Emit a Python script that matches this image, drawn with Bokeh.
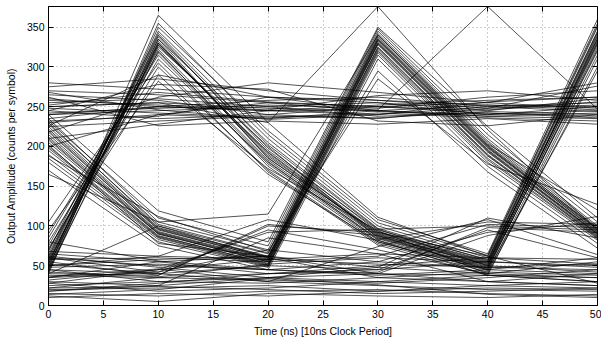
from bokeh.plotting import figure
from bokeh.models import LinearAxis, SingleIntervalTicker, Range1d, ColumnDataSource
from bokeh.embed import file_html
from bokeh.resources import INLINE

# sample instants (ns)
t_ns = [0, 10, 20, 30, 40, 50]

# traces rising 0->10, falling 10->30, rising 40->50
rise_first = [
    [42, 330, 190, 88, 52, 335], [48, 335, 185, 92, 55, 340], [55, 325, 200, 85, 48, 330],
    [60, 340, 195, 95, 58, 345], [45, 320, 175, 80, 45, 325], [52, 345, 210, 100, 60, 350],
    [65, 330, 188, 90, 50, 338], [70, 310, 180, 84, 47, 320], [80, 300, 170, 78, 42, 315],
    [58, 335, 205, 97, 57, 342], [50, 328, 192, 89, 53, 333], [44, 350, 220, 108, 65, 360],
    [62, 338, 198, 93, 56, 344], [75, 322, 183, 86, 49, 328], [90, 315, 178, 82, 46, 322],
    [105, 305, 168, 76, 38, 310], [47, 365, 230, 111, 62, 355], [53, 332, 186, 87, 51, 336],
    [68, 342, 202, 96, 100, 95], [56, 327, 193, 91, 54, 331], [40, 355, 215, 104, 63, 352],
    [85, 318, 181, 83, 105, 102], [72, 290, 165, 80, 44, 295], [95, 282, 172, 94, 40, 300],
]

# traces falling -10->10, rising 20->30, falling 30->50
fall_first = [
    [220, 95, 60, 335, 200, 92], [210, 90, 55, 330, 195, 90], [230, 100, 65, 340, 205, 95],
    [200, 88, 52, 325, 190, 88], [225, 98, 62, 338, 202, 97], [190, 85, 50, 320, 185, 85],
    [215, 93, 58, 333, 198, 93], [235, 105, 70, 345, 210, 100], [205, 90, 55, 328, 193, 89],
    [180, 80, 48, 315, 180, 82], [222, 97, 61, 336, 201, 94], [212, 92, 57, 331, 196, 91],
    [240, 119, 80, 350, 225, 110], [195, 86, 51, 322, 188, 87], [228, 102, 66, 342, 207, 98],
    [170, 75, 45, 310, 175, 78], [218, 96, 59, 334, 199, 96], [208, 91, 56, 329, 194, 90],
    [232, 110, 75, 348, 215, 105], [198, 87, 53, 324, 189, 86], [185, 83, 49, 318, 183, 84],
    [165, 105, 115, 340, 203, 120], [202, 78, 62, 295, 168, 72], [188, 112, 68, 285, 178, 127],
]

# traces around the upper middle level
mid_level = [
    [250, 255, 248, 245, 252, 250], [240, 245, 250, 255, 240, 245], [260, 250, 245, 240, 250, 255],
    [230, 240, 235, 245, 238, 242], [270, 265, 255, 250, 245, 260], [245, 235, 240, 250, 255, 248],
    [280, 272, 262, 245, 240, 250], [225, 232, 238, 236, 244, 240], [255, 260, 250, 238, 242, 236],
    [235, 250, 258, 262, 250, 244], [265, 258, 240, 235, 248, 252], [248, 242, 236, 242, 236, 232],
    [210, 228, 245, 252, 258, 262], [275, 285, 270, 258, 252, 246], [242, 248, 252, 248, 262, 270],
    [232, 238, 262, 255, 246, 256], [258, 252, 246, 264, 270, 258], [200, 240, 255, 244, 238, 235],
    [268, 246, 234, 240, 256, 262], [252, 268, 256, 250, 242, 238], [226, 290, 262, 258, 248, 276],
    [218, 262, 280, 268, 255, 280], [262, 226, 232, 228, 235, 228], [245, 278, 272, 232, 226, 240],
]

# traces around the lower levels
low_level = [
    [30, 25, 35, 40, 30, 25], [45, 40, 50, 45, 55, 50], [60, 50, 45, 55, 48, 52],
    [15, 12, 18, 20, 15, 12], [20, 22, 25, 18, 22, 20], [35, 42, 95, 70, 40, 35],
    [65, 55, 40, 45, 95, 60], [40, 100, 60, 35, 30, 40], [12, 5, 15, 12, 10, 14],
    [25, 30, 28, 35, 42, 38], [50, 58, 62, 48, 40, 55], [62, 48, 35, 30, 25, 22],
    [18, 28, 40, 50, 60, 58], [38, 35, 32, 28, 35, 45], [28, 18, 22, 30, 38, 30],
    [48, 52, 45, 38, 45, 60], [58, 60, 55, 62, 102, 98], [10, 15, 12, 18, 25, 30],
    [42, 36, 52, 60, 55, 48], [22, 24, 20, 15, 18, 22], [68, 62, 58, 52, 48, 45],
    [32, 45, 58, 65, 60, 52], [52, 40, 30, 25, 20, 18], [80, 56, 45, 40, 38, 35],
    [55, 38, 100, 92, 62, 28], [36, 46, 30, 74, 108, 64], [14, 20, 34, 26, 14, 10],
    [40, 38, 102, 88, 45, 40], [28, 45, 92, 96, 50, 42], [50, 62, 108, 82, 38, 30],
    [22, 35, 40, 42, 98, 92], [45, 30, 35, 48, 110, 85], [60, 42, 70, 55, 92, 104],
    [18, 25, 85, 65, 30, 25], [35, 55, 62, 40, 88, 112],
]

# isolated overshoot traces
overshoot = [
    [250, 255, 230, 376, 221, 95],
    [240, 250, 245, 246, 376, 247],
]

traces = rise_first + fall_first + mid_level + low_level + overshoot
src = ColumnDataSource(dict(xs=[t_ns] * len(traces), ys=traces))

FONT = "Liberation Sans"

p = figure(width=601, height=339, output_backend="svg", toolbar_location=None,
           x_range=Range1d(0, 50), y_range=Range1d(0, 376),
           min_border_left=48, min_border_right=4, min_border_top=6, min_border_bottom=30,
           x_axis_label="Time (ns) [10ns Clock Period]",
           y_axis_label="Output Amplitude (counts per symbol)")
p.background_fill_color = "white"
p.border_fill_color = "white"
p.outline_line_color = "black"
p.outline_line_width = 1

p.multi_line(xs="xs", ys="ys", source=src, line_color="black", line_width=0.75, line_alpha=0.9)

xt = SingleIntervalTicker(interval=5)
yt = SingleIntervalTicker(interval=50)
p.xaxis.ticker = xt
p.yaxis.ticker = yt

for g in (p.xgrid, p.ygrid):
    g.grid_line_color = "#9a9a9a"
    g.grid_line_dash = "1 3"
    g.grid_line_width = 1
p.xgrid.ticker = xt
p.ygrid.ticker = yt

for ax in (p.xaxis[0], p.yaxis[0]):
    ax.major_tick_in = 5
    ax.major_tick_out = 0
    ax.minor_tick_in = 0
    ax.minor_tick_out = 0
    ax.axis_line_color = "black"
    ax.major_tick_line_color = "black"
    ax.major_label_text_font = FONT
    ax.major_label_text_font_size = "10.5px"
    ax.major_label_text_color = "black"
    ax.axis_label_text_font = FONT
    ax.axis_label_text_font_size = "10.5px"
    ax.axis_label_text_font_style = "normal"
    ax.axis_label_text_color = "black"
    ax.major_label_standoff = 4
p.xaxis[0].axis_label_standoff = 4
p.yaxis[0].axis_label_standoff = 7

# mirror ticks on top and right (no labels drawn)
for loc, tk in (("right", yt), ("above", xt)):
    ax = LinearAxis(ticker=tk)
    ax.major_tick_in = 5
    ax.major_tick_out = 0
    ax.minor_tick_in = 0
    ax.minor_tick_out = 0
    ax.axis_line_color = None
    ax.major_tick_line_color = "black"
    ax.major_label_text_color = None
    ax.major_label_text_font_size = "1px"
    ax.major_label_standoff = 0
    p.add_layout(ax, loc)

open("out.html", "w").write(file_html(p, INLINE))
